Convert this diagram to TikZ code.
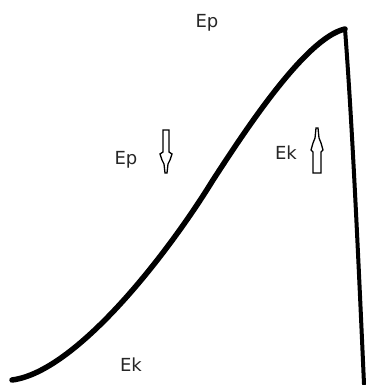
\documentclass[tikz,border=0pt]{standalone}
\usepackage{fontspec}
\setmainfont{DejaVu Sans}
\begin{document}
\begin{tikzpicture}[x=1pt,y=-1pt,
  lbl/.style={font=\fontsize{18}{21}\selectfont, text=black!85, inner sep=0pt},
  curve/.style={line width=5.5pt, line cap=round, line join=round},
  hollow/.style={draw=black, line width=1.3pt, fill=white, line join=miter}]
\useasboundingbox (0,0) rectangle (369,385);
% main curve
\coordinate (start) at (12,380);
\coordinate (mid) at (213,180);
\coordinate (peak) at (345,29);
\coordinate (foot) at (364,384);
\draw[curve] (start) .. controls (75,372) and (165,258) .. (mid)
  .. controls (243,134) and (305,38) .. (peak);
\draw[line width=4pt, line cap=round] (peak) .. controls (352,120) and (358,250) .. (foot);
% labels
\node[lbl] (eptop) at (207,23) {Ep};
\node[lbl] (epleft) at (126,160) {Ep};
\node[lbl] (ekright) at (286,153) {Ek};
\node[lbl] (ekbot) at (131,365) {Ek};
% down arrow
\draw[hollow] (163,130) -- (169,130) -- (169,152) -- (172,154) -- (170,160) -- (168,164) -- (167,173) -- (165,173) -- (164,164) -- (162,160) -- (160,154) -- (163,152) -- cycle;
% up arrow
\draw[hollow] (313,173) -- (321,173) -- (321,152) -- (323,150) -- (321,143) -- (319,138) -- (318,128) -- (316,128) -- (315,138) -- (313,143) -- (311,150) -- (313,152) -- cycle;
\end{tikzpicture}
\end{document}
